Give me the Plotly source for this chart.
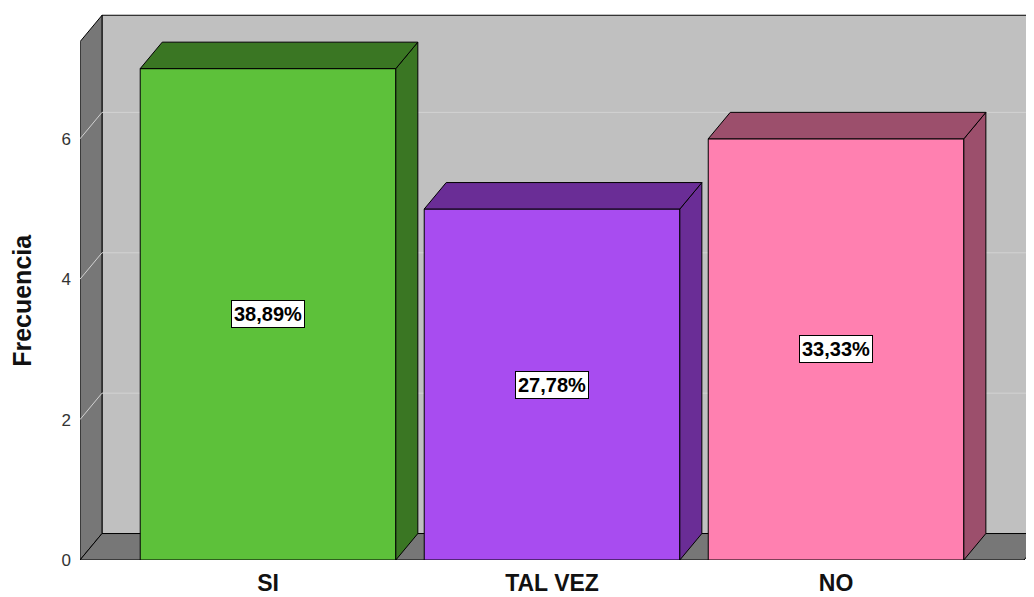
import plotly.graph_objects as go

categorias = ["SI", "TAL VEZ", "NO"]
frecuencias = [7, 5, 6]
color_frente = ["#5dc13a", "#a84cf0", "#ff80b0"]
color_lado = ["#3a7623", "#6a2d96", "#9c4f6c"]
y_ticks = [0, 2, 4, 6]

total = sum(frecuencias)
etiquetas = [f"{f / total * 100:.2f}%".replace(".", ",") for f in frecuencias]

# pseudo 3d depth (data units) and frame extents
dx, dy = 0.0775, 0.377
ancho = 0.9
x0, x1 = -0.662, 2.662
xmax, ymax = 2.697, 7.835
techo = 7.76
gris_osc = "#777777"
gris_pared = "#c0c0c0"

fig = go.Figure()

shapes = []
# back wall
shapes.append(dict(type="rect", xref="x", yref="y", x0=x0 + dx, x1=xmax + 1, y0=dy, y1=techo,
                   fillcolor=gris_pared, line=dict(color="black", width=1), layer="below"))
# left wall
shapes.append(dict(type="path", xref="x", yref="y",
                   path=f"M{x0},0 L{x0},{techo - dy} L{x0 + dx},{techo} L{x0 + dx},{dy} Z",
                   fillcolor=gris_osc, line=dict(color="black", width=1), layer="below"))
# floor
shapes.append(dict(type="path", xref="x", yref="y",
                   path=f"M{x0},0 L{x1},0 L{x1 + dx},{dy} L{x0 + dx},{dy} Z",
                   fillcolor=gris_osc, line=dict(color="black", width=1), layer="below"))
# gridlines
for t in y_ticks[1:]:
    shapes.append(dict(type="path", xref="x", yref="y",
                       path=f"M{x0},{t} L{x0 + dx},{t + dy} L{xmax + 1},{t + dy}",
                       line=dict(color="#d2d2d2", width=1), layer="below"))

# bar side and top faces
for i, (v, c) in enumerate(zip(frecuencias, color_lado)):
    l, r = i - ancho / 2, i + ancho / 2
    fig.add_trace(go.Scatter(x=[r, r, r + dx, r + dx, r], y=[0, v, v + dy, dy, 0],
                             fill="toself", fillcolor=c, mode="lines",
                             line=dict(color="black", width=1), hoverinfo="skip", showlegend=False))
    fig.add_trace(go.Scatter(x=[l, l + dx, r + dx, r, l], y=[v, v + dy, v + dy, v, v],
                             fill="toself", fillcolor=c, mode="lines",
                             line=dict(color="black", width=1), hoverinfo="skip", showlegend=False))

fig.add_trace(go.Bar(x=list(range(len(categorias))), y=frecuencias, width=ancho,
                     marker=dict(color=color_frente, line=dict(color="black", width=1)),
                     showlegend=False))

for i, (v, txt) in enumerate(zip(frecuencias, etiquetas)):
    fig.add_annotation(x=i, y=v / 2, text=f"<b>{txt}</b>", showarrow=False,
                       font=dict(family="Liberation Sans, Arial", size=20, color="black"),
                       bgcolor="white", bordercolor="black", borderwidth=1, borderpad=2)

# y axis title centred on the front edge of the left wall
fig.add_annotation(xref="paper", x=0, yref="y", y=(techo - dy) / 2, xshift=-58,
                   xanchor="center", yanchor="middle",
                   text="<b>Frecuencia</b>", textangle=-90, showarrow=False,
                   font=dict(size=25, color="#111111"))

# page body has an 8px margin, so the figure is sized and offset to fit the window
fig.update_layout(
    width=1026, height=589,
    margin=dict(l=72, r=0, t=2, b=37, pad=0),
    paper_bgcolor="white", plot_bgcolor="white",
    shapes=shapes,
    font=dict(family="Liberation Sans, Arial", color="#222222"),
    xaxis=dict(range=[x0, xmax], tickvals=list(range(len(categorias))),
               ticktext=[f"<b>{c}</b>" for c in categorias], automargin=False,
               tickfont=dict(size=23, color="#111111"), showgrid=False, zeroline=False,
               showline=False, ticks="", ticklabelstandoff=7),
    yaxis=dict(range=[0, ymax], tickvals=y_ticks, tickfont=dict(size=17, color="#333333"),
               showgrid=False, zeroline=False, showline=False, ticks="", automargin=False,
               ticklabelstandoff=8),
)

fig.write_html("out.html")
